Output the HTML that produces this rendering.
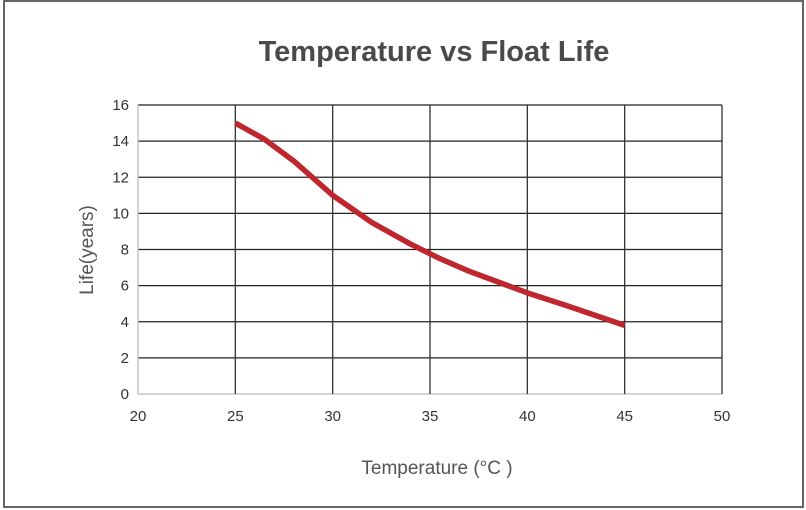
<!DOCTYPE html>
<html><head><meta charset="utf-8"><style>
html,body{margin:0;padding:0;background:#fff;}
svg{display:block;font-family:"Liberation Sans",sans-serif;}
</style></head><body>
<svg id="chart" width="806" height="510">
<rect x="4" y="1" width="799" height="506" fill="#fff" stroke="#666" stroke-width="2"/>
<text x="434" y="61" text-anchor="middle" font-size="29" font-weight="bold" fill="#4a4a4a">Temperature vs Float Life</text>
<g id="grid"></g>
<g id="series"></g>
<text x="437" y="474" text-anchor="middle" font-size="19" fill="#555">Temperature (°C )</text>
<text transform="translate(93,250) rotate(-90)" text-anchor="middle" font-size="19" fill="#555">Life(years)</text>
</svg>
<script>
const xTicks=[20,25,30,35,40,45,50];
const yTicks=[0,2,4,6,8,10,12,14,16];
const temps=[25,26.5,28,30,32,34,35.5,37,38.5,40,42,45];
const life=[15,14.1,12.9,11,9.5,8.3,7.5,6.8,6.2,5.6,4.9,3.8];
const X0=138,X1=722,Y0=394,Y1=105;
const sx=v=>X0+(v-20)/30*(X1-X0);
const sy=v=>Y0-(v/16)*(Y0-Y1);
const NS="http://www.w3.org/2000/svg";
const grid=document.getElementById('grid');
function mk(tag,attrs,parent){const e=document.createElementNS(NS,tag);for(const k in attrs)e.setAttribute(k,attrs[k]);parent.appendChild(e);return e;}
yTicks.forEach(t=>{
  const l=mk('line',{x1:X0,x2:X1,y1:sy(t),y2:sy(t),stroke:t===0?'#bbb':'#222','stroke-width':1.3},grid);
  
  
  const tx=mk('text',{x:X0-9,y:sy(t)+5,'text-anchor':'end','font-size':15,fill:'#333'},grid);
  tx.textContent=t;
  
  
});
xTicks.forEach(t=>{
  const l=mk('line',{x1:sx(t),x2:sx(t),y1:Y1,y2:Y0,stroke:t===20?'#bbb':'#333','stroke-width':1.3},grid);
  
  
  const tx=mk('text',{x:sx(t),y:421,'text-anchor':'middle','font-size':15,fill:'#333'},grid);
  tx.textContent=t;
  
  
});
const pts=temps.map((t,i)=>sx(t)+','+sy(life[i])).join(' ');
const pl=mk('polyline',{points:pts,fill:'none',stroke:'#c0262d','stroke-width':5.5,'stroke-linejoin':'round'},document.getElementById('series'));


</script>
</body></html>
